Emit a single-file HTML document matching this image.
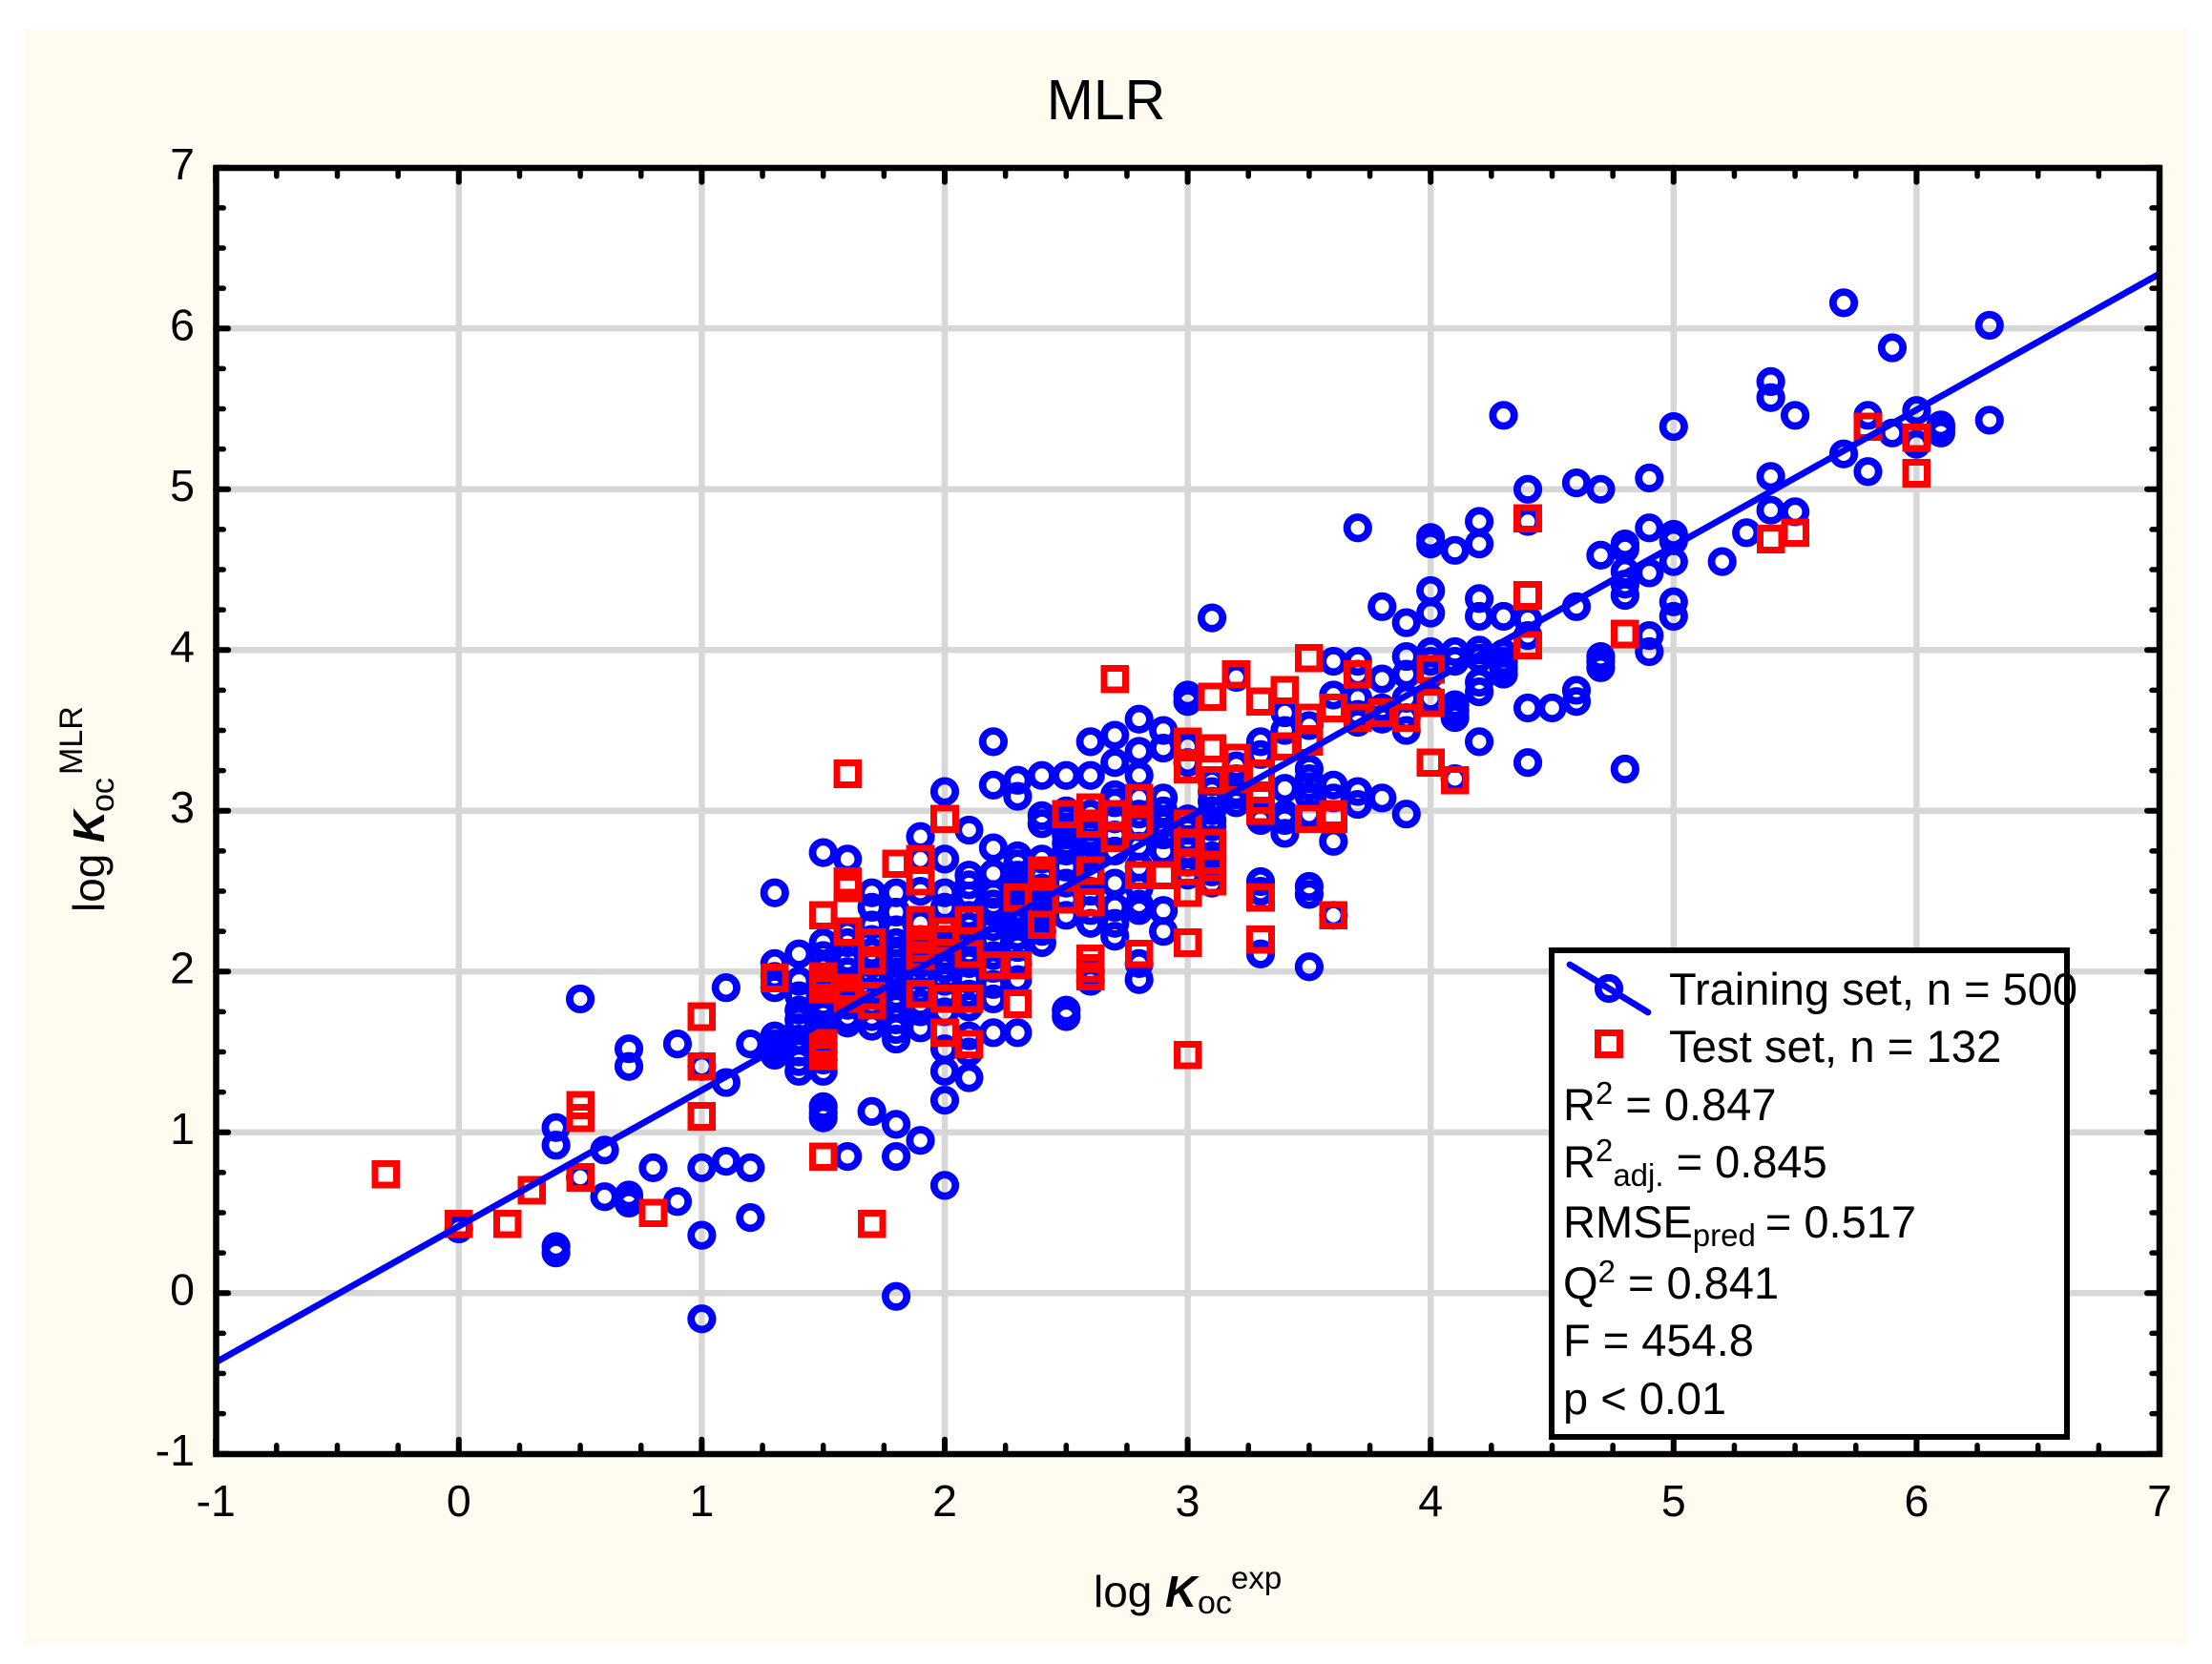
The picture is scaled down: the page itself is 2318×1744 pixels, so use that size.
<!DOCTYPE html>
<html lang="en">
<head>
<meta charset="utf-8">
<title>MLR</title>
<style>
html,body{margin:0;padding:0;background:#fff;}
svg{display:block;font-family:"Liberation Sans",Arial,sans-serif;fill:#000;}
</style>
</head>
<body>
<svg id="chart" xmlns="http://www.w3.org/2000/svg" width="2318" height="1744" viewBox="0 0 2318 1744">
  <rect x="26" y="30" width="2266" height="1694" fill="#fffbf0"/>
  <rect x="226" y="176" width="2037" height="1348" fill="#fff"/>
  <g id="grid"></g>
  <g id="training"></g>
  <g id="testing"></g>
  <g id="fit"></g>
  <g id="ticks"></g>
  <rect x="226.5" y="176" width="2036.5" height="1348" fill="none" stroke="#000" stroke-width="6.5"/>
  <g id="tick-labels" font-size="46.5"></g>

  <text x="1159" y="125" font-size="59" text-anchor="middle">MLR</text>

  <g>
    <text x="1146" y="1684" font-size="46">log</text>
    <text x="1221" y="1684" font-size="46" font-weight="bold" font-style="italic">K</text>
    <text x="1255" y="1691" font-size="34">oc</text>
    <text x="1290" y="1665" font-size="33">exp</text>
  </g>

  <g transform="translate(109,956) rotate(-90)">
    <text x="0" y="0" font-size="46">log</text>
    <text x="73" y="0" font-size="46" font-weight="bold" font-style="italic">K</text>
    <text x="105" y="10" font-size="34">oc</text>
    <text x="144" y="-23" font-size="34">MLR</text>
  </g>

  <g>
    <rect x="1626" y="996" width="540" height="510" fill="#fff" stroke="#000" stroke-width="6"/>
    <line x1="1645" y1="1011" x2="1727" y2="1061" stroke="#0000ff" stroke-width="6.8" stroke-linecap="round"/>
    <circle cx="1686" cy="1036" r="11.2" fill="none" stroke="#0000ff" stroke-width="7.8"/>
    <rect x="1674.7" y="1082.7" width="22.6" height="22.6" fill="none" stroke="#ff0000" stroke-width="7" shape-rendering="crispEdges"/>
    <text x="1749" y="1053" font-size="47">Training set, n = 500</text>
    <text x="1749" y="1113" font-size="47.3">Test set, n = 132</text>
    <text x="1638" y="1174" font-size="47">R<tspan font-size="33" dy="-17">2</tspan><tspan dy="17"> = 0.847</tspan></text>
    <text x="1638" y="1234" font-size="47">R<tspan font-size="33" dy="-17">2</tspan><tspan font-size="33" dy="26">adj.</tspan><tspan dy="-9"> = 0.845</tspan></text>
    <text x="1638" y="1297" font-size="47">RMSE<tspan font-size="33" dy="9">pred</tspan><tspan dy="-9" dx="-3"> = 0.517</tspan></text>
    <text x="1638" y="1361" font-size="47">Q<tspan font-size="33" dy="-17">2</tspan><tspan dy="17"> = 0.841</tspan></text>
    <text x="1638" y="1421" font-size="47">F = 454.8</text>
    <text x="1638" y="1482" font-size="47">p &lt; 0.01</text>
  </g>
</svg>

<script>
// ---- chart data ----
const xTickLabels = [-1, 0, 1, 2, 3, 4, 5, 6, 7];
const yTickLabels = [-1, 0, 1, 2, 3, 4, 5, 6, 7];

const lineX = [-1, 7];
const lineY = [-0.43, 6.34];

const trainX = [0, 0.4, 0.5, 0.6, 0.7, 0.8, 0.9, 1, 1.1, 1.2, 1.3, 1.4, 1.5, 1.6, 1.7, 1.8, 1.9, 2, 2.1, 2.2, 2.3, 2.4, 2.5, 2.6, 2.7, 2.8, 2.9, 3, 3.1, 3.2, 3.3, 3.4, 3.5, 3.6, 3.7, 3.8, 3.9, 4, 4.1, 4.2, 4.3, 4.4, 4.5, 4.6, 4.7, 4.8, 4.9, 5, 5.2, 5.3, 5.4, 5.5, 5.7, 5.8, 5.9, 6, 6.1, 6.3];
const trainY = [
  [0.40],
  [1.03, 0.92, 0.29, 0.25],
  [1.83, 0.72],
  [0.89, 0.60],
  [1.52, 1.41, 0.61, 0.58, 0.56],
  [0.78],
  [1.55, 0.57],
  [1.41, 0.78, 0.36, -0.16],
  [1.90, 1.31, 0.82],
  [1.55, 0.78, 0.47],
  [2.49, 2.05, 1.97, 1.90, 1.60, 1.55, 1.52, 1.48],
  [2.11, 1.94, 1.85, 1.76, 1.70, 1.65, 1.58, 1.50, 1.44, 1.38],
  [2.74, 2.18, 2.10, 2.02, 1.95, 1.88, 1.80, 1.73, 1.65, 1.60, 1.55, 1.50, 1.45, 1.38, 1.16, 1.12, 1.09],
  [2.70, 2.24, 2.18, 2.07, 2.00, 1.93, 1.85, 1.79, 1.72, 1.68, 0.85],
  [2.49, 2.40, 2.29, 2.20, 2.12, 2.05, 1.97, 1.88, 1.80, 1.72, 1.66, 1.13],
  [2.49, 2.37, 2.26, 2.18, 2.10, 2.05, 2.00, 1.96, 1.92, 1.85, 1.78, 1.70, 1.64, 1.58, 1.05, 0.85, -0.02],
  [2.84, 2.70, 2.50, 2.30, 2.20, 2.12, 2.05, 1.97, 1.88, 1.80, 1.75, 1.65, 0.95],
  [3.12, 2.70, 2.49, 2.40, 2.27, 2.18, 2.10, 2.02, 1.94, 1.85, 1.75, 1.52, 1.38, 1.20, 0.67],
  [2.88, 2.60, 2.54, 2.47, 2.35, 2.28, 2.20, 2.12, 2.05, 1.95, 1.86, 1.78, 1.60, 1.50, 1.34],
  [3.43, 3.16, 2.77, 2.61, 2.48, 2.42, 2.37, 2.28, 2.20, 2.10, 2.02, 1.92, 1.83, 1.62],
  [3.19, 3.09, 2.72, 2.67, 2.60, 2.56, 2.52, 2.48, 2.45, 2.38, 2.34, 2.30, 2.22, 2.15, 2.05, 1.95, 1.62],
  [3.22, 2.97, 2.92, 2.70, 2.60, 2.52, 2.47, 2.42, 2.35, 2.30, 2.25, 2.18],
  [3.22, 3.00, 2.95, 2.90, 2.85, 2.80, 2.75, 2.65, 2.55, 2.45, 2.35, 1.76, 1.72],
  [3.43, 3.22, 2.98, 2.90, 2.85, 2.80, 2.70, 2.60, 2.50, 2.38, 2.30, 2.00, 1.94],
  [3.47, 3.30, 3.10, 3.05, 2.95, 2.85, 2.75, 2.55, 2.40, 2.30, 2.22],
  [3.57, 3.37, 3.22, 3.08, 2.98, 2.90, 2.78, 2.65, 2.52, 2.42, 2.38, 2.05, 1.95],
  [3.50, 3.39, 3.08, 3.00, 2.92, 2.85, 2.75, 2.38, 2.25],
  [3.72, 3.68, 3.40, 3.30, 2.95, 2.88, 2.82, 2.75, 2.68, 2.60],
  [4.20, 3.18, 3.12, 3.06, 3.00, 2.94, 2.90, 2.82, 2.72, 2.62, 2.55],
  [3.83, 3.28, 3.20, 3.12, 3.10, 3.05],
  [3.43, 3.35, 2.98, 2.94, 2.56, 2.50, 2.11],
  [3.61, 3.50, 3.14, 2.98, 2.94, 2.86],
  [3.53, 3.26, 3.20, 3.15, 3.09, 2.98, 2.53, 2.48, 2.03],
  [3.93, 3.72, 3.16, 3.08, 2.81, 2.35],
  [4.76, 3.93, 3.85, 3.70, 3.60, 3.55, 3.12, 3.04],
  [4.27, 3.82, 3.64, 3.57, 3.08],
  [4.17, 3.96, 3.85, 3.70, 3.58, 3.50, 2.98],
  [4.70, 4.66, 4.37, 4.23, 3.99, 3.93, 3.85, 3.70],
  [4.62, 3.99, 3.93, 3.66, 3.62, 3.58, 3.20],
  [4.80, 4.66, 4.32, 4.21, 4.00, 3.95, 3.80, 3.74, 3.43],
  [5.46, 4.21, 3.98, 3.93, 3.89, 3.85],
  [5.00, 4.80, 4.19, 4.09, 3.64, 3.30],
  [3.64],
  [5.04, 4.27, 3.75, 3.68],
  [5.00, 4.59, 3.96, 3.93, 3.89],
  [4.66, 4.63, 4.49, 4.41, 4.34, 3.26],
  [5.07, 4.76, 4.48, 4.09, 3.99],
  [5.39, 4.72, 4.68, 4.55, 4.30, 4.21],
  [4.55],
  [4.73],
  [5.67, 5.57, 5.08, 4.87],
  [5.46, 4.86],
  [6.16, 5.22],
  [5.46, 5.11],
  [5.88, 5.35],
  [5.49, 5.28],
  [5.40, 5.38, 5.35],
  [6.02, 5.43]
];

const testX = [-0.3, 0, 0.2, 0.3, 0.5, 0.8, 1, 1.3, 1.5, 1.6, 1.7, 1.8, 1.9, 2, 2.1, 2.2, 2.3, 2.4, 2.5, 2.6, 2.7, 2.8, 2.9, 3, 3.1, 3.2, 3.3, 3.4, 3.5, 3.6, 3.7, 3.8, 3.9, 4, 4.1, 4.4, 4.8, 5.4, 5.5, 5.8, 6];
const testY = [
  [0.74],
  [0.43],
  [0.43],
  [0.64],
  [1.17, 1.09, 0.72],
  [0.50],
  [1.72, 1.41, 1.10],
  [1.96],
  [2.35, 1.97, 1.93, 1.89, 1.555, 1.515, 1.475, 0.85],
  [3.23, 2.56, 2.52, 2.25, 1.90, 1.86, 1.83],
  [2.18, 2.07, 1.85, 1.79, 0.43],
  [2.67],
  [2.70, 2.56, 2.32, 2.20, 2.15, 2.10, 1.86],
  [2.95, 2.25, 2.20, 1.83, 1.62],
  [2.32, 2.11, 1.83, 1.55],
  [2.04],
  [2.46, 2.04, 1.80],
  [2.63, 2.59, 2.29],
  [2.98, 2.45],
  [3.02, 2.92, 2.63, 2.43, 2.08, 2.02, 1.97],
  [3.82, 2.98, 2.83],
  [3.08, 2.91, 2.60, 2.11],
  [2.60],
  [3.43, 3.26, 2.92, 2.80, 2.68, 2.49, 2.18, 1.48],
  [3.71, 3.39, 3.19, 2.80, 2.65, 2.56],
  [3.85, 3.33, 3.20],
  [3.68, 3.23, 3.07, 3.00, 2.46, 2.20],
  [3.75, 3.40],
  [3.95, 3.58, 3.43, 2.95],
  [3.64, 2.98, 2.95, 2.35],
  [3.85, 3.58],
  [3.61],
  [3.58],
  [3.88, 3.67, 3.30],
  [3.19],
  [4.82, 4.34, 4.03],
  [4.10],
  [4.69],
  [4.73],
  [5.39],
  [5.32, 5.10]
];

// ---- axis functions ----
const NS = 'http://www.w3.org/2000/svg';
const xAxis = v => 480.8 + 254.6 * v;
const yAxis = v => 1355.3 - 168.5 * v;
const FRAME_LEFT = xAxis(-1), FRAME_RIGHT = xAxis(7), FRAME_TOP = yAxis(7), FRAME_BOTTOM = yAxis(-1);

function make(tag, parent, attrs) {
  const el = document.createElementNS(NS, tag);
  for (const k in attrs) el.setAttribute(k, attrs[k]);
  parent.appendChild(el);
  return el;
}

const gridG = document.getElementById('grid');
const ticksG = document.getElementById('ticks');
const labelsG = document.getElementById('tick-labels');

// gridlines
xTickLabels.slice(1, -1).forEach(v => {
  const el = make('line', gridG, {x1: xAxis(v), x2: xAxis(v), y1: FRAME_TOP, y2: FRAME_BOTTOM, stroke: '#d7d7d7', 'stroke-width': 6.5});
  
  
});
yTickLabels.slice(1, -1).forEach(v => {
  const el = make('line', gridG, {x1: FRAME_LEFT, x2: FRAME_RIGHT, y1: yAxis(v), y2: yAxis(v), stroke: '#d7d7d7', 'stroke-width': 6.5});
  
  
});

// ticks on all four sides
for (let q = 0; q <= 32; q++) {
  const major = q % 4 === 0;
  const vx = -1 + q / 4;
  const lenX = major ? 15 : 9;
  const lenY = major ? 13 : 8;
  const px = xAxis(vx), py = yAxis(vx);
  [[px, FRAME_TOP, px, FRAME_TOP + lenX], [px, FRAME_BOTTOM, px, FRAME_BOTTOM - lenX],
   [FRAME_LEFT, py, FRAME_LEFT + lenY, py], [FRAME_RIGHT, py, FRAME_RIGHT - lenY, py]].forEach(c => {
    const el = make('line', ticksG, {x1: c[0], y1: c[1], x2: c[2], y2: c[3], stroke: '#000', 'stroke-width': major ? 6 : 5.5, 'stroke-linecap': 'round'});
    
    
  });
}

// tick labels
xTickLabels.forEach(v => {
  const el = make('text', labelsG, {x: xAxis(v), y: 1589, 'text-anchor': 'middle'});
  el.textContent = String(v);
  
  
});
yTickLabels.forEach(v => {
  const el = make('text', labelsG, {x: 204, y: yAxis(v) + 12, 'text-anchor': 'end'});
  el.textContent = String(v);
  
  
});

// training points
const trainG = document.getElementById('training');
trainX.forEach((x, i) => {
  trainY[i].forEach(y => {
    const el = make('circle', trainG, {cx: xAxis(x), cy: yAxis(y), r: 11.2, fill: 'none', stroke: '#0000ff', 'stroke-width': 7.8});
    
    
  });
});

// test points
const testG = document.getElementById('testing');
testX.forEach((x, i) => {
  testY[i].forEach(y => {
    const el = make('rect', testG, {x: xAxis(x) - 11.3, y: yAxis(y) - 11.3, width: 22.6, height: 22.6, fill: 'none', stroke: '#ff0000', 'stroke-width': 7, 'shape-rendering': 'crispEdges'});
    
    
  });
});

// regression line
const fitEl = make('line', document.getElementById('fit'), {x1: xAxis(lineX[0]), y1: yAxis(lineY[0]), x2: xAxis(lineX[1]), y2: yAxis(lineY[1]), stroke: '#0000ff', 'stroke-width': 6.8});


</script>
</body>
</html>
